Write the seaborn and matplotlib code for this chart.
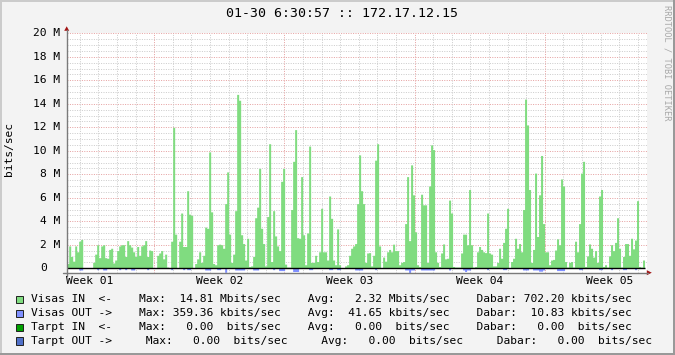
import numpy as np
import pandas as pd
import matplotlib
matplotlib.use("Agg")
import matplotlib.pyplot as plt
import seaborn as sns
from matplotlib.patches import Rectangle, Polygon
from matplotlib.lines import Line2D

# ---------------- data (Mbits/sec, one value per time step) ----------------
visas_in_mbps = [
    0.4, 1.9, 1.0, 0.6, 1.9, 1.4, 2.3, 2.45, 0, 0,
    0, 0, 0, 0.5, 1.2, 2.0, 0.9, 1.9, 2.0, 0.9,
    0.85, 1.6, 1.7, 0.45, 0.7, 1.5, 1.9, 2.0, 2.0, 1.0,
    2.35, 2.0, 1.8, 1.4, 1.0, 1.85, 1.1, 1.9, 2.0, 2.35,
    1.0, 1.55, 1.5, 0, 0, 1.1, 1.3, 1.5, 0.8, 1.2,
    0.1, 0, 2.3, 12.0, 2.9, 0, 2.3, 4.7, 1.85, 1.85,
    6.6, 4.6, 4.5, 0, 0.4, 0.8, 1.4, 0.5, 1.1, 3.5,
    3.4, 9.9, 4.8, 0.4, 0.3, 2.0, 2.05, 2.0, 1.7, 5.5,
    8.2, 2.9, 0.5, 1.2, 4.9, 14.8, 14.3, 2.85, 2.1, 0.7,
    2.55, 0.15, 0.2, 1.0, 4.3, 5.2, 8.5, 3.4, 2.1, 0.2,
    4.4, 10.6, 0.57, 4.9, 2.75, 1.9, 1.5, 7.4, 8.5, 0.35,
    0.1, 0.1, 5.0, 9.1, 11.8, 2.6, 2.55, 7.8, 2.85, 0.3,
    3.0, 10.4, 0.5, 0.5, 1.1, 0.57, 1.4, 5.1, 1.4, 1.4,
    0.7, 6.15, 4.25, 0.7, 0.3, 3.35, 0.3, 0.05, 0.05, 0.2,
    0.3, 1.1, 1.7, 1.9, 2.1, 5.5, 9.65, 6.6, 5.5, 0.5,
    1.3, 1.33, 0.2, 1.1, 9.2, 10.6, 1.9, 0.05, 0.95, 0.6,
    1.4, 1.6, 1.4, 2.05, 1.5, 1.5, 0.3, 0.5, 0.57, 3.8,
    7.8, 2.35, 8.8, 6.25, 3.1, 0.3, 0.15, 6.3, 5.4, 5.4,
    0.5, 7.0, 10.5, 10.1, 1.4, 0.5, 0.15, 1.3, 2.07, 0.8,
    0.85, 5.8, 4.7, 0.15, 0.1, 0.1, 0.1, 1.3, 2.9, 2.9,
    2.0, 6.7, 2.0, 0.1, 0.15, 1.4, 1.85, 1.6, 1.4, 1.33,
    4.7, 1.3, 1.2, 0.2, 0.2, 0.5, 1.7, 0.85, 2.2, 3.4,
    5.1, 0, 0.57, 0.85, 2.55, 1.7, 2.1, 1.4, 5.0, 14.4,
    12.2, 6.7, 0.5, 1.6, 8.1, 2.7, 6.25, 9.6, 3.8, 1.4,
    1.4, 0.3, 0.7, 0.75, 1.55, 2.5, 2.0, 7.6, 7.0, 0.57,
    0.1, 0.5, 0.57, 0.1, 2.3, 1.4, 3.8, 8.1, 9.1, 0.15,
    1.05, 2.07, 1.7, 0.95, 1.5, 0.5, 6.15, 6.7, 0.15, 0.3,
    0.1, 1.05, 2.0, 1.5, 2.2, 4.3, 1.7, 0.1, 1.0, 2.1,
    2.1, 1.1, 2.55, 1.65, 2.4, 5.75, 0.15, 0.1, 0.7,
]

visas_out_mbps = [
    0, 0, 0, 0, 0, 0, .15, .15, 0, 0,
    0, 0, 0, 0, 0, .12, 0, 0, .15, .15,
    0, 0, 0, 0, 0, 0, .12, 0, 0, .12,
    0, 0, .15, .15, 0, 0, 0, 0, 0, 0,
    .12, 0, 0, 0, 0, 0, 0, 0, 0, 0,
    0, 0, .12, 0, 0, 0, 0, 0, .12, 0,
    .12, .12, 0, 0, 0, 0, 0, 0, 0, .15,
    .15, .15, 0, 0, 0, .12, .12, 0, 0, .35,
    0, 0, 0, 0, .15, .15, .15, .15, .15, 0,
    0, 0, 0, .15, .15, .15, 0, 0, 0, 0,
    0, 0, 0, .12, 0, 0, .2, .2, .2, 0,
    0, 0, 0, .28, .28, .28, 0, 0, 0, 0,
    0, .12, .12, 0, 0, 0, 0, 0, 0, 0,
    0, .12, .12, 0, 0, .12, .12, 0, 0, 0,
    0, 0, 0, 0, .15, .15, .15, .15, 0, 0,
    0, 0, 0, 0, .12, 0, 0, 0, 0, 0,
    0, 0, 0, 0, 0, 0, 0, 0, 0, .15,
    .15, .36, .15, .15, 0, 0, 0, .15, .15, .15,
    .15, .15, .15, .15, 0, 0, 0, 0, 0, 0,
    0, .15, 0, 0, 0, 0, 0, 0, .15, .28,
    .15, .15, 0, 0, 0, 0, 0, 0, 0, 0,
    .12, 0, 0, 0, 0, 0, 0, 0, .12, .12,
    0, 0, 0, 0, 0, 0, 0, 0, .15, .15,
    .15, 0, 0, .15, .15, .15, .25, .25, .15, 0,
    0, 0, 0, 0, 0, .2, .2, .2, .2, 0,
    0, 0, 0, 0, 0, 0, .12, .12, 0, 0,
    0, 0, 0, 0, 0, 0, .12, .12, 0, 0,
    0, 0, .12, 0, 0, 0, 0, 0, .12, .12,
    0, 0, 0, 0, .12, 0, 0, 0, 0,
]

step_hours = 2.58            # time step of the archive
span_hours = 748.8           # width of the graph in hours (~31 days)
first_day_line_hours = 17.0  # first midnight inside the graph
week_start_hours = [113.0, 281.0, 449.0, 617.0]
week_labels = ["Week 01", "Week 02", "Week 03", "Week 04", "Week 05"]
week_label_hours = [29.0, 197.0, 365.0, 533.0, 701.0]
ytick_values = [0, 2, 4, 6, 8, 10, 12, 14, 16, 18, 20]
ytick_labels = ["0", "2 M", "4 M", "6 M", "8 M", "10 M", "12 M",
                "14 M", "16 M", "18 M", "20 M"]
title_text = "01-30 6:30:57 :: 172.17.12.15"
ylabel_text = "bits/sec"
watermark = "RRDTOOL / TOBI OETIKER"
legend_rows = [
    "Visas IN  <-    Max:  14.81 Mbits/sec    Avg:   2.32 Mbits/sec    Dabar: 702.20 kbits/sec",
    "Visas OUT ->    Max: 359.36 kbits/sec    Avg:  41.65 kbits/sec    Dabar:  10.83 kbits/sec",
    "Tarpt IN  <-    Max:   0.00  bits/sec    Avg:   0.00  bits/sec    Dabar:   0.00  bits/sec",
    "Tarpt OUT ->     Max:   0.00  bits/sec     Avg:   0.00  bits/sec     Dabar:   0.00  bits/sec",
]
legend_colors = ["#80dc80", "#8090ff", "#00a000", "#5070c8"]

# ---------------- style ----------------
sns.set_theme(style="white")
plt.rcParams["font.family"] = ["DejaVu Sans Mono"]

W, H = 675, 355
BG = "#f3f3f3"
fig = plt.figure(figsize=(W / 100, H / 100), dpi=100, facecolor=BG)


def fx(px):
    return px / W


def fy(py):
    return 1 - py / H


ax_left, ax_right, ax_top, ax_bottom = 66.7, 647.0, 33.3, 272.7
ax = fig.add_axes([fx(ax_left), fy(ax_bottom), fx(ax_right) - fx(ax_left),
                   fy(ax_top) - fy(ax_bottom)])
ax.set_facecolor("white")
y_min, y_max = -0.38, 20.0
px_per_m = (ax_bottom - ax_top) / (y_max - y_min)

# ---------------- grid (behind data) ----------------
dots = (0, (1.0, 1.4))
minor_col, major_col = "#cdcdcd", "#e6a3a3"
for k in range(1, 41):
    yv = k * 0.5
    major = (k % 4 == 0)
    ax.axhline(yv, color=major_col if major else minor_col, lw=0.72,
               ls=dots, zorder=1)
h = first_day_line_hours
while h < span_hours:
    major = any(abs(h - w) < 1e-6 for w in week_start_hours)
    ax.axvline(h, color=major_col if major else minor_col, lw=0.72,
               ls=dots, zorder=1)
    h += 24.0

# ---------------- data ----------------
n = len(visas_in_mbps)
data_end = n * step_hours
centers = (np.arange(n) + 0.5) * step_hours
df = pd.DataFrame({
    "t": centers,
    "in": visas_in_mbps,
    "out": -np.asarray(visas_out_mbps, dtype=float),
})
sns.histplot(data=df, x="t", weights="in", binwidth=step_hours,
             binrange=(0, data_end), element="step",
             fill=True, color=legend_colors[0], alpha=1, linewidth=0,
             ax=ax, zorder=3)
sns.histplot(data=df, x="t", weights="out", binwidth=step_hours,
             binrange=(0, data_end), element="step",
             fill=True, color=legend_colors[1], alpha=1, linewidth=0,
             ax=ax, zorder=3)
ax.plot([0, data_end], [0, 0], color="black", lw=1.0, zorder=4,
        solid_capstyle="butt")

ax.set_xlim(0, span_hours)
ax.set_ylim(y_min, y_max)
ax.set_xticks([])
ax.set_yticks([])
ax.set_xlabel("")
ax.set_ylabel("")
for s in ax.spines.values():
    s.set_visible(False)

# ---------------- axes lines and arrows ----------------
axis_col = "#7a7a7a"
arrow_col = "#a31515"
fig.add_artist(Line2D([fx(ax_left), fx(ax_left)], [fy(276.0), fy(29.5)],
                      color=axis_col, lw=1.0, transform=fig.transFigure))
fig.add_artist(Line2D([fx(63.0), fx(647.5)], [fy(ax_bottom), fy(ax_bottom)],
                      color=axis_col, lw=1.0, transform=fig.transFigure))
fig.add_artist(Polygon([[fx(64.2), fy(30.8)], [fx(69.2), fy(30.8)],
                        [fx(66.7), fy(26.3)]], closed=True, color=arrow_col,
                       transform=fig.transFigure, lw=0))
fig.add_artist(Polygon([[fx(646.8), fy(270.2)], [fx(646.8), fy(275.2)],
                        [fx(651.8), fy(272.7)]], closed=True, color=arrow_col,
                       transform=fig.transFigure, lw=0))

# ---------------- tick labels ----------------
FS = 8.1
char_px = 6.77
for v, lab in zip(ytick_values, ytick_labels):
    py = ax_bottom - (v - y_min) * px_per_m
    right = 60.4 if " M" in lab else 60.4 - 2 * char_px
    fig.text(fx(right), fy(py), lab, ha="right", va="center", fontsize=FS,
             color="black")
for hh, lab in zip(week_label_hours, week_labels):
    px = ax_left + hh / span_hours * (ax_right - ax_left)
    fig.text(fx(px), fy(281.5), lab, ha="center", va="center", fontsize=FS,
             color="black")

fig.text(fx(9.5), fy(149.5), ylabel_text, rotation=90, ha="center",
         va="center", fontsize=FS, color="black")
fig.text(fx(341.5), fy(13.8), title_text, ha="center", va="center",
         fontsize=9.5, color="black")
fig.text(fx(666.5), fy(5.0), watermark, rotation=270, ha="center", va="top",
         fontsize=6.2, color="#a8a8a8")

# ---------------- legend ----------------
row_y = [299.3, 313.3, 327.3, 341.2]
for yy, txt, col in zip(row_y, legend_rows, legend_colors):
    fig.add_artist(Rectangle((fx(15.5), fy(yy + 3.8)), 7.6 / W, 7.6 / H,
                             facecolor=col, edgecolor="#202020", lw=0.7,
                             transform=fig.transFigure))
    fig.text(fx(30.8), fy(yy), txt, ha="left", va="center", fontsize=FS,
             color="black")

# ---------------- 3D frame ----------------
fig.add_artist(Rectangle((0, fy(2)), 1, 2 / H, facecolor="#cbcbcb", lw=0,
                         transform=fig.transFigure))
fig.add_artist(Rectangle((0, 0), 2 / W, 1, facecolor="#cbcbcb", lw=0,
                         transform=fig.transFigure))
fig.add_artist(Rectangle((0, 0), 1, 2 / H, facecolor="#999999", lw=0,
                         transform=fig.transFigure))
fig.add_artist(Rectangle((1 - 2 / W, 0), 2 / W, 1, facecolor="#999999", lw=0,
                         transform=fig.transFigure))

fig.savefig("out.png", dpi=100, facecolor=BG)
